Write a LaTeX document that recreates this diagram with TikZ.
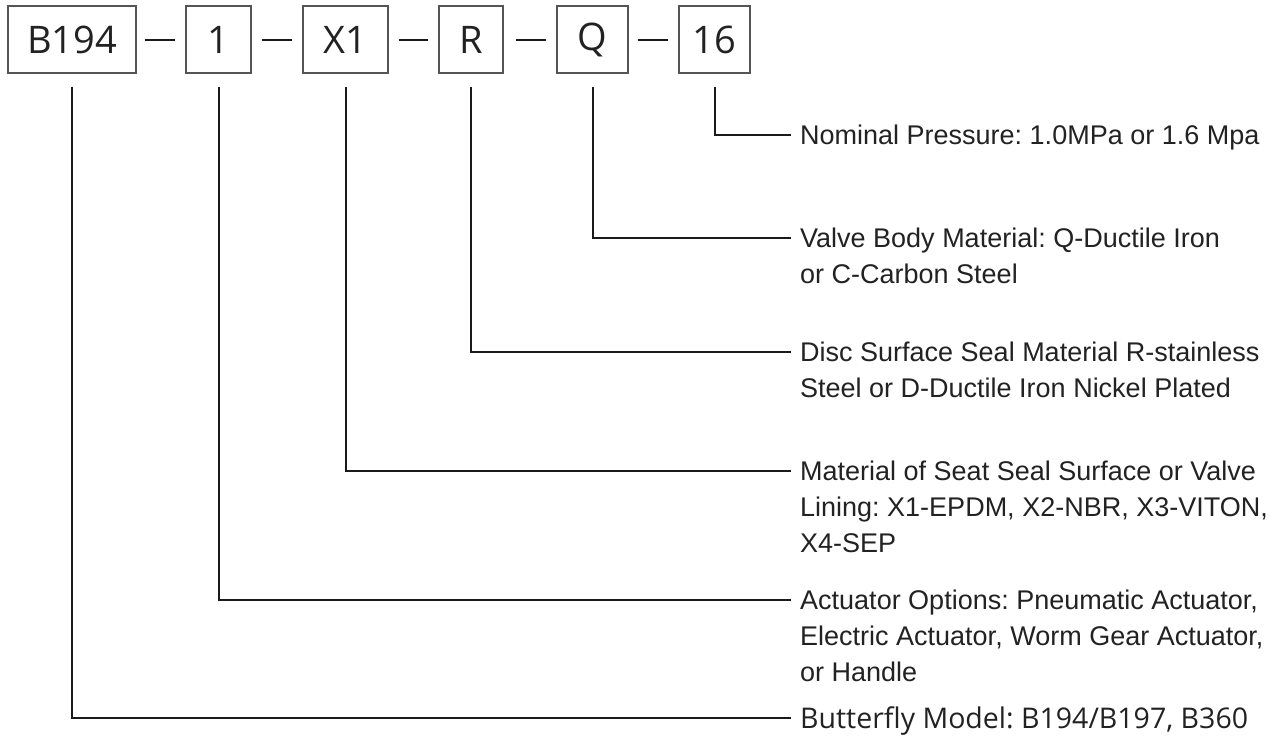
\documentclass[tikz,border=0pt]{standalone}
\usepackage{fontspec}
\setmainfont{Liberation Sans}
\newfontfamily\boxfont{Open Sans}
\definecolor{ink}{HTML}{222222}
\definecolor{frame}{HTML}{555555}
\definecolor{wire}{HTML}{1A1A1A}
\frenchspacing
\begin{document}
\begin{tikzpicture}[x=1pt,y=-1pt,
  codebox/.style={draw=frame, line width=1.2pt, inner sep=0pt, minimum height=67pt,
    font=\boxfont\fontsize{38}{46}\selectfont, text=ink},
  sep/.style={draw=wire, line width=2pt},
  wireline/.style={draw=wire, line width=2pt},
  lab/.style={anchor=base west, inner sep=0pt, text=ink,
    font=\fontsize{27}{36}\selectfont},
  lab2/.style={anchor=base west, inner sep=0pt, text=ink,
    font=\boxfont\fontsize{28.5}{36}\selectfont}]
\useasboundingbox (0,0) rectangle (1270,738);
\fill[white] (0,0) rectangle (1270,738);
% boxes
\node[codebox, minimum width=128pt] (b1) at (72,39.5) {B194};
\node[codebox, minimum width=65pt] (b2) at (218.5,39.5) {1};
\node[codebox, minimum width=85pt] (b3) at (345.5,39.5) {X1};
\node[codebox, minimum width=64pt] (b4) at (471,39.5) {R};
\node[codebox, minimum width=71pt] (b5) at (592.5,39.5) {Q};
\node[codebox, minimum width=71pt] (b6) at (714.5,39.5) {16};
% separators
\draw[sep] ([xshift=8pt]b1.east |- 0,40) -- ([xshift=-10pt]b2.west |- 0,40);
\draw[sep] ([xshift=10pt]b2.east |- 0,40) -- ([xshift=-10pt]b3.west |- 0,40);
\draw[sep] ([xshift=10pt]b3.east |- 0,40) -- ([xshift=-10pt]b4.west |- 0,40);
\draw[sep] ([xshift=12pt]b4.east |- 0,40) -- ([xshift=-10pt]b5.west |- 0,40);
\draw[sep] ([xshift=9pt]b5.east |- 0,40) -- ([xshift=-10pt]b6.west |- 0,40);
% end points of connectors
\coordinate (e6) at (791,135);
\coordinate (e5) at (791,238);
\coordinate (e4) at (791,352);
\coordinate (e3) at (791,471);
\coordinate (e2) at (791,600);
\coordinate (e1) at (791,718);
% labels
\node[lab] (t6) at ([xshift=9pt,yshift=-9.5pt]e6) {Nominal Pressure: 1.0MPa or 1.6 Mpa};
\node[lab] (t5) at ([xshift=9pt,yshift=-9.5pt]e5) {\begin{tabular}[t]{@{}l@{}}Valve Body Material: Q-Ductile Iron\\or C-Carbon Steel\end{tabular}};
\node[lab] (t4) at ([xshift=9pt,yshift=-9.5pt]e4) {\begin{tabular}[t]{@{}l@{}}Disc Surface Seal Material R-stainless\\Steel or D-Ductile Iron Nickel Plated\end{tabular}};
\node[lab] (t3) at ([xshift=9pt,yshift=-9.5pt]e3) {\begin{tabular}[t]{@{}l@{}}Material of Seat Seal Surface or Valve\\Lining: X1-EPDM, X2-NBR, X3-VITON,\\X4-SEP\end{tabular}};
\node[lab] (t2) at ([xshift=9pt,yshift=-9.5pt]e2) {\begin{tabular}[t]{@{}l@{}}Actuator Options: Pneumatic Actuator,\\Electric Actuator, Worm Gear Actuator,\\or Handle\end{tabular}};
\node[lab2] (t1) at ([xshift=9pt,yshift=-10pt]e1) {Butterfly Model: B194/B197, B360};
% connectors
\draw[wireline] ([yshift=-13pt]b6.south) |- (e6);
\draw[wireline] ([yshift=-13pt]b5.south) |- (e5);
\draw[wireline] ([yshift=-13pt]b4.south) |- (e4);
\draw[wireline] ([yshift=-13pt]b3.south) |- (e3);
\draw[wireline] ([yshift=-13pt]b2.south) |- (e2);
\draw[wireline] ([yshift=-13pt]b1.south) |- (e1);
\end{tikzpicture}
\end{document}
